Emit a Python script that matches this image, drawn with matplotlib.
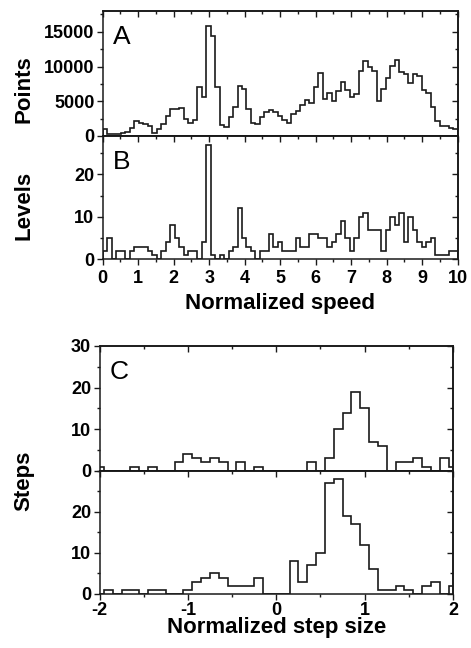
import numpy as np
import matplotlib
matplotlib.use("Agg")
import matplotlib.pyplot as plt
from matplotlib.ticker import MultipleLocator, NullFormatter, FixedLocator

# ---------------- data ----------------
# Panel A / B : histograms over normalized speed 0..10 (79 equal bins)
speed_edges = np.linspace(0, 10, 80)
points = [1000, 250, 250, 300, 450, 600, 1100, 2100, 1900, 1800,
          1500, 400, 1000, 1700, 2900, 3900, 3900, 4100, 2500, 1900,
          2300, 7000, 5600, 15800, 14400, 7000, 1600, 1300, 2700, 4200,
          7200, 6800, 3900, 1900, 1800, 2700, 3500, 3700, 3500, 2900,
          2300, 1900, 3200, 3600, 4500, 5200, 4800, 7100, 9100, 5300,
          6200, 5100, 6500, 7800, 6600, 5600, 6000, 9400, 10800, 10000,
          9400, 5100, 6800, 8400, 10100, 11000, 9200, 8900, 7600, 8900,
          8700, 6600, 6200, 4200, 2200, 1400, 1400, 1200, 1000]
levels = [2, 5, 0, 2, 2, 0, 2, 3, 3, 3,
          2, 1, 0, 2, 4, 8, 5, 3, 1, 2,
          2, 0, 4, 27, 1, 0, 1, 0, 2, 3,
          12, 5, 3, 2, 0, 2, 2, 6, 3, 4,
          2, 2, 2, 5, 3, 3, 6, 6, 5, 5,
          3, 4, 6, 9, 5, 2, 5, 10, 11, 7,
          7, 7, 2, 7, 10, 8, 11, 4, 10, 7,
          4, 3, 4, 5, 1, 1, 1, 2, 2]

# Panel C : step-size histograms, bins centred on -2.0 .. 2.0 (width 0.1)
step_centers = np.round(np.arange(-2.0, 2.0001, 0.1), 2)
steps_top = [1, 0, 0, 0, 1, 0, 1, 0, 0, 2,
             4, 3, 2, 3, 2, 0, 2, 0, 1, 0,
             0, 0, 0, 0, 2, 0, 3, 10, 14, 19,
             15, 7, 6, 0, 2, 2, 3, 1, 0, 3, 1]
steps_bottom = [0, 1, 0, 1, 1, 0, 1, 1, 0, 0,
                1, 3, 4, 5, 4, 2, 2, 2, 4, 0,
                0, 0, 8, 3, 7, 10, 27, 28, 19, 17,
                12, 6, 1, 1, 2, 1, 0, 2, 3, 0, 2]

A_yticks = [0, 5000, 10000, 15000]
B_yticks = [0, 10, 20]
C_top_yticks = [0, 10, 20, 30]
C_bot_yticks = [0, 10, 20]
speed_xticks = list(range(0, 11))
step_xticks = [-2, -1, 0, 1, 2]

# ---------------- style ----------------
FAM = "Liberation Sans"
LINE = "#1a1a1a"
TICK_FS = 13
LABEL_FS = 16
LETTER_FS = 19

W, H = 471, 648
fig = plt.figure(figsize=(W / 100, H / 100), dpi=100)


def box(l, t, r, b):
    return [l / W, 1 - b / H, (r - l) / W, (b - t) / H]


def style(ax, xmaj, xmin, ymaj, ymin, yticks, xticks=None, top_ticks=True,
          xpad=2.0):
    for s in ax.spines.values():
        s.set_linewidth(1.1)
        s.set_color(LINE)
    ax.xaxis.set_major_locator(MultipleLocator(xmaj))
    ax.xaxis.set_minor_locator(MultipleLocator(xmin))
    ax.yaxis.set_major_locator(FixedLocator(yticks))
    ax.yaxis.set_minor_locator(MultipleLocator(ymin))
    ax.tick_params(which="both", direction="out", width=1.0, color=LINE,
                   top=False, right=False, labelsize=TICK_FS, pad=2)
    ax.tick_params(axis="x", which="both", pad=xpad)
    ax.tick_params(which="major", length=4.0)
    ax.tick_params(which="minor", length=2.3)
    if xticks is None:
        ax.tick_params(axis="x", which="both", bottom=False, labelbottom=False)
    else:
        ax.set_xticks(xticks)
        ax.set_xticklabels([str(v) for v in xticks])
    ax.set_yticks(yticks)
    ax.set_yticklabels([str(v) for v in yticks])
    for lab in ax.get_xticklabels() + ax.get_yticklabels():
        lab.set_fontfamily(FAM)
        lab.set_fontweight("bold")
    # inward ticks on top and right
    if top_ticks:
        sx = ax.secondary_xaxis("top")
        sx.xaxis.set_major_locator(MultipleLocator(xmaj))
        sx.xaxis.set_minor_locator(MultipleLocator(xmin))
        sx.xaxis.set_major_formatter(NullFormatter())
        sx.tick_params(which="both", direction="in", width=1.0, color=LINE)
        sx.tick_params(which="major", length=4.0)
        sx.tick_params(which="minor", length=2.3)
        sx.spines["top"].set_linewidth(1.1)
    sy = ax.secondary_yaxis("right")
    sy.yaxis.set_major_locator(MultipleLocator(ymaj))
    sy.yaxis.set_minor_locator(MultipleLocator(ymin))
    sy.yaxis.set_major_formatter(NullFormatter())
    sy.tick_params(which="both", direction="in", width=1.0, color=LINE)
    sy.tick_params(which="major", length=4.0)
    sy.tick_params(which="minor", length=2.3)
    sy.spines["right"].set_linewidth(1.1)


def letter(ax, s):
    ax.text(0.028, 0.89, s, transform=ax.transAxes, fontsize=LETTER_FS,
            family=FAM, va="top", ha="left", color="black")


# Panel A
axA = fig.add_axes(box(102.7, 11, 457.7, 136))
axA.stairs(points, speed_edges, color=LINE, lw=1.2)
axA.set_xlim(0, 10)
axA.set_ylim(0, 18000)
style(axA, 1, 0.5, 5000, 2500, A_yticks)
letter(axA, "A")

# Panel B
axB = fig.add_axes(box(102.7, 136, 457.7, 259.3))
axB.stairs(levels, speed_edges, color=LINE, lw=1.2)
axB.set_xlim(0, 10)
axB.set_ylim(0, 29)
style(axB, 1, 0.5, 10, 5, B_yticks, speed_xticks, xpad=3.5)
axB.set_xlabel("Normalized speed", fontsize=LABEL_FS, family=FAM,
               weight="bold", labelpad=4.5)
letter(axB, "B")

# Panel C (top)
step_edges = np.append(step_centers - 0.05, step_centers[-1] + 0.05)
axC1 = fig.add_axes(box(99.5, 346, 453, 470.7))
axC1.stairs(steps_top, step_edges, color=LINE, lw=1.2)
axC1.set_xlim(-2, 2)
axC1.set_ylim(0, 30)
style(axC1, 1, 0.5, 10, 5, C_top_yticks)
letter(axC1, "C")

# Panel C (bottom)
axC2 = fig.add_axes(box(99.5, 470.7, 453, 594))
axC2.stairs(steps_bottom, step_edges, color=LINE, lw=1.2)
axC2.set_xlim(-2, 2)
axC2.set_ylim(0, 30)
style(axC2, 1, 0.5, 10, 5, C_bot_yticks, step_xticks, xpad=1.5)
axC2.set_xlabel("Normalized step size", fontsize=LABEL_FS, family=FAM,
                weight="bold", labelpad=-1)

# y-axis labels
for label, yc in [("Points", 89), ("Levels", 205), ("Steps", 481)]:
    fig.text(24 / W, 1 - yc / H, label, rotation=90, fontsize=LABEL_FS,
             ha="center", va="center", family=FAM, weight="bold")

fig.savefig("out.png", dpi=100)
